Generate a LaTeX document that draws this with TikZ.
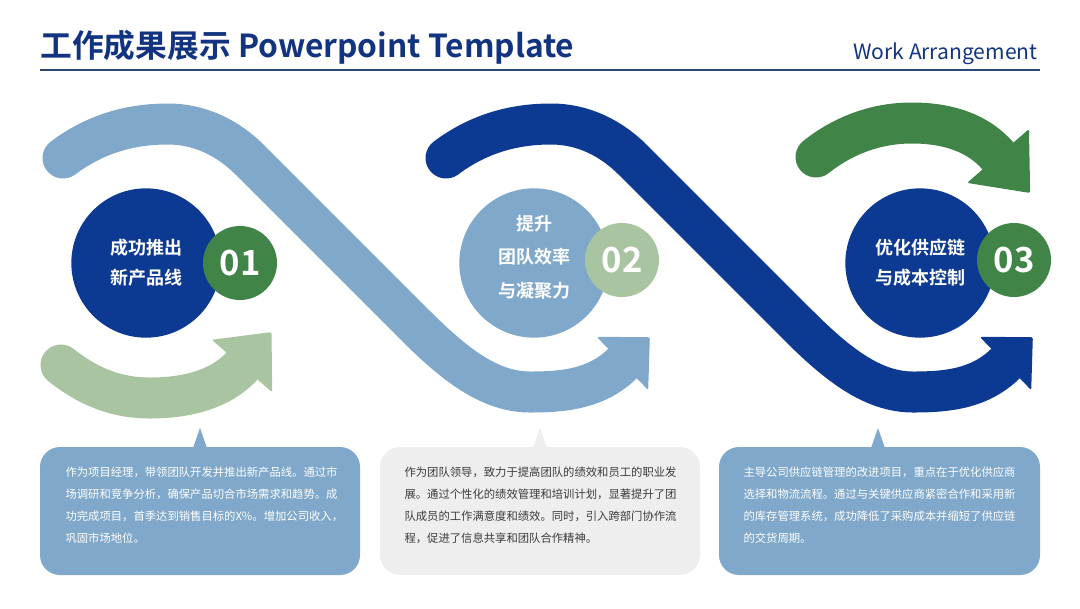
\documentclass[tikz,border=0pt]{standalone}
\usepackage{fontspec}
\setmainfont{Noto Sans CJK SC}[BoldFont={Noto Sans CJK SC Bold}]
\usetikzlibrary{positioning}

\definecolor{waveNavy}{RGB}{12,57,145}
\definecolor{waveSky}{RGB}{127,168,203}
\definecolor{waveSage}{RGB}{169,196,160}
\definecolor{waveGreen}{RGB}{64,132,72}
\definecolor{titleBlue}{RGB}{18,52,128}
\definecolor{ruleBlue}{RGB}{45,70,115}
\definecolor{noteGray}{RGB}{238,238,238}
\definecolor{noteInk}{RGB}{60,60,60}

\tikzset{every picture/.style={line width=0.75pt}}
\tikzset{
  band/.style={line width=30.75pt, line cap=round},
  bigdot/.style={circle, minimum size=112pt, inner sep=0pt, text=white, align=center,
    font=\bfseries\fontsize{13.5}{22.5}\selectfont},
  numdot/.style={circle, minimum size=55.5pt, inner sep=0pt, text=white,
    font=\bfseries\fontsize{26}{26}\selectfont},
  notebox/.style={rounded corners=15pt},
  notetext/.style={anchor=north west, inner sep=0pt, align=left,
    font=\fontsize{8.5}{16.5}\selectfont}
}

\begin{document}
\begin{tikzpicture}[x=0.75pt,y=0.75pt,yscale=-1,xscale=1]
\useasboundingbox (0,0) rectangle (1080,608);

% Title
\node (title) [anchor=base west, inner sep=0pt, text=titleBlue, font=\bfseries\fontsize{23.8}{23.8}\selectfont] at (40,57) {工作成果展示 Powerpoint Template};
\node (subtitle) [anchor=base east, inner sep=0pt, text=titleBlue, font=\fontsize{15.8}{15.8}\selectfont] at (1038,59) {Work Arrangement};
\draw [ruleBlue, line width=1.5pt] (40,70) -- (1040,70);

%Light blue wave
\draw [band, waveSky] (63,158) .. controls (95,134) and (130,124) .. (168,124) .. controls (200,124) and (228,138) .. (250,160) -- (415,325) .. controls (455,365) and (490,392) .. (530,392) .. controls (565,392) and (597,388.5) .. (622.5,363.5) ;
\fill [shift={(622.5,363.5)}, rotate = 316] [waveSky, rounded corners=1.5pt] (0,-37) -- (38,0) -- (0,37) -- cycle ;
%Dark blue wave
\draw [band, waveNavy] (446,158) .. controls (478,134) and (513,124) .. (551,124) .. controls (583,124) and (611,138) .. (633,160) -- (798,325) .. controls (838,365) and (873,392) .. (913,392) .. controls (948,392) and (980,388.5) .. (1005.5,363.5) ;
\fill [shift={(1005.5,363.5)}, rotate = 316] [waveNavy, rounded corners=1.5pt] (0,-37) -- (38,0) -- (0,37) -- cycle ;
%Sage arrow
\draw [band, waveSage] (61,365) .. controls (90,388) and (118,398) .. (150,398) .. controls (185,398) and (220,390) .. (242,366) ;
\fill [shift={(242,366)}, rotate = 311] [waveSage, rounded corners=1.5pt] (0,-40) -- (45,0) -- (0,40) -- cycle ;
%Green arrow
\draw [band, waveGreen] (816,157) .. controls (845,134) and (878,123) .. (912,123) .. controls (948,123) and (978,133) .. (998,156) ;
\fill [shift={(998,156)}, rotate = 49] [waveGreen, rounded corners=1.5pt] (0,-41) -- (49,0) -- (0,41) -- cycle ;

% Circles
\node (goalA) [bigdot, fill=waveNavy] at (146,263) {成功推出\\新产品线};
\node (numA) [numdot, fill=waveGreen] at (240,263) {01};
\node (goalB) [bigdot, fill=waveSky] at (534,263) {};
\node (goalBtext) [text=white, align=center, inner sep=0pt, font=\bfseries\fontsize{13.5}{25}\selectfont] at (534,257) {提升\\团队效率\\与凝聚力};
\node (numB) [numdot, fill=waveSage] at (622,260) {02};
\node (goalC) [bigdot, fill=waveNavy] at (920,263) {优化供应链\\与成本控制};
\node (numC) [numdot, fill=waveGreen] at (1014,260) {03};

% Notes
\fill [notebox, waveSky] (40,447) rectangle (360,575) ;
\fill [waveSky] (193,448) -- (200,428) -- (207,448) -- cycle ;
\fill [notebox, noteGray] (380,447) rectangle (700,575) ;
\fill [noteGray] (533,448) -- (540,428) -- (547,448) -- cycle ;
\fill [notebox, waveSky] (719,447) rectangle (1040,575) ;
\fill [waveSky] (871,448) -- (878,428) -- (885,448) -- cycle ;

\node (noteA) [notetext, text=white] at (65,466) {作为项目经理，带领团队开发并推出新产品线。通过市\\场调研和竞争分析，确保产品切合市场需求和趋势。成\\功完成项目，首季达到销售目标的X\%。增加公司收入，\\巩固市场地位。};
\node (noteB) [notetext, text=noteInk] at (404,466) {作为团队领导，致力于提高团队的绩效和员工的职业发\\展。通过个性化的绩效管理和培训计划，显著提升了团\\队成员的工作满意度和绩效。同时，引入跨部门协作流\\程，促进了信息共享和团队合作精神。};
\node (noteC) [notetext, text=white] at (743,466) {主导公司供应链管理的改进项目，重点在于优化供应商\\选择和物流流程。通过与关键供应商紧密合作和采用新\\的库存管理系统，成功降低了采购成本并缩短了供应链\\的交货周期。};

\end{tikzpicture}
\end{document}
